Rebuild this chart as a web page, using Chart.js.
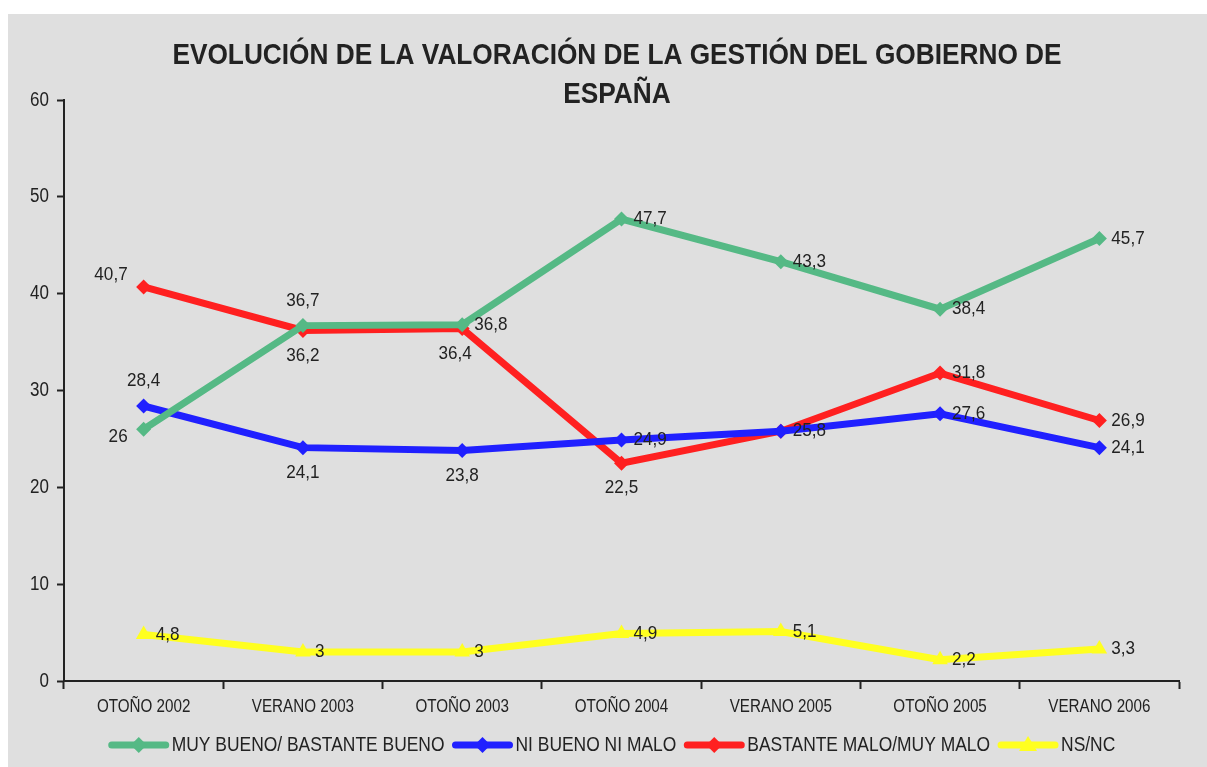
<!DOCTYPE html>
<html>
<head>
<meta charset="utf-8">
<script src="https://cdn.jsdelivr.net/npm/chart.js@4.4.1/dist/chart.umd.min.js"></script>
<style>
  html, body { margin: 0; padding: 0; background: #fff; }
  #wrap { width: 1207px; height: 767px; }
</style>
</head>
<body>
<div id="wrap"><canvas id="grafico" width="1207" height="767"></canvas></div>
<script>
const periodos = ['OTOÑO 2002', 'VERANO 2003', 'OTOÑO 2003', 'OTOÑO 2004', 'VERANO 2005', 'OTOÑO 2005', 'VERANO 2006'];
const muyBueno = [26, 36.7, 36.8, 47.7, 43.3, 38.4, 45.7];
const niBueno = [28.4, 24.1, 23.8, 24.9, 25.8, 27.6, 24.1];
const bastanteMalo = [40.7, 36.2, 36.4, 22.5, 25.8, 31.8, 26.9];
const nsnc = [4.8, 3, 3, 4.9, 5.1, 2.2, 3.3];
const yTicks = [0, 10, 20, 30, 40, 50, 60];

// where each value label sits: r = right, a = above, b = below, l = left, n = hidden
const posMuyBueno = ['l', 'a', 'r', 'r', 'r', 'r', 'r'];
const posNiBueno = ['a', 'b', 'b', 'r', 'n', 'r', 'r'];
const posMalo = ['l', 'b', 'bl', 'b', 'r', 'r', 'r'];
const posNsnc = ['r', 'r', 'r', 'r', 'r', 'r', 'r'];

const FONT = '"Liberation Sans", Arial, sans-serif';
const TXT = '#222';
const CLEAR = 'rgba(0,0,0,0)';

// the original uses a condensed face, so squeeze the text horizontally
function texto(c, s, x, y, align, sx) {
  c.save();
  c.translate(x, y);
  c.scale(sx, 1);
  c.textAlign = align;
  c.textBaseline = 'middle';
  c.fillText(s, 0, 0);
  c.restore();
}

const fondo = {
  id: 'fondo',
  beforeDraw(chart) {
    const c = chart.ctx;
    c.save();
    c.fillStyle = '#fff';
    c.fillRect(0, 0, chart.width, chart.height);
    c.fillStyle = '#dfdfdf';
    c.fillRect(8, 14, chart.width - 8, chart.height - 14);
    c.restore();
  },
  afterDraw(chart) {
    const c = chart.ctx;
    c.save();
    c.fillStyle = TXT;

    // title
    c.font = 'bold 30px ' + FONT;
    texto(c, 'EVOLUCIÓN DE LA VALORACIÓN DE LA GESTIÓN DEL GOBIERNO DE', 617, 56, 'center', 0.875);
    texto(c, 'ESPAÑA', 617, 95, 'center', 0.875);

    // axis labels
    c.font = '19px ' + FONT;
    const xs = chart.scales.x, ys = chart.scales.y;
    periodos.forEach((p, i) => texto(c, p, xs.getPixelForTick(i), 707, 'center', 0.8));
    c.font = '20px ' + FONT;
    yTicks.forEach(v => texto(c, String(v), 49, ys.getPixelForValue(v), 'right', 0.85));

    // value labels
    c.font = '19px ' + FONT;
    chart.data.datasets.forEach((ds, i) => {
      const meta = chart.getDatasetMeta(i);
      meta.data.forEach((pt, j) => {
        const p = ds.labelPos[j];
        if (p === 'n') return;
        const t = String(ds.data[j]).replace('.', ',');
        let x = pt.x, y = pt.y, al = 'center';
        if (p === 'r') { al = 'left'; x += 12; }
        else if (p === 'a') { y -= 25; }
        else if (p === 'b') { y += 25; }
        else if (p === 'l') { al = 'right'; x -= 16; y += (ds.data[j] > 30 ? -12 : 8); }
        else if (p === 'bl') { x -= 7; y += 25; }
        texto(c, t, x, y, al, 0.9);
      });
    });

    // legend
    c.font = '21px ' + FONT;
    const sx = 0.83;
    const ly = 745;
    const items = chart.data.datasets.map(ds => ({ ds, w: 63 + c.measureText(ds.label).width * sx }));
    const total = items.reduce((s, it) => s + it.w, 0) + 8 * (items.length - 1);
    let x = 612 - total / 2;
    items.forEach(it => {
      c.strokeStyle = it.ds.borderColor;
      c.lineWidth = 7;
      c.lineCap = 'round';
      c.beginPath();
      c.moveTo(x + 3, ly);
      c.lineTo(x + 57, ly);
      c.stroke();
      c.fillStyle = it.ds.borderColor;
      c.beginPath();
      if (it.ds.pointStyle === 'triangle') {
        c.moveTo(x + 30, ly - 9); c.lineTo(x + 39, ly + 6); c.lineTo(x + 21, ly + 6);
      } else {
        c.moveTo(x + 30, ly - 8); c.lineTo(x + 38, ly); c.lineTo(x + 30, ly + 8); c.lineTo(x + 22, ly);
      }
      c.closePath();
      c.fill();
      c.fillStyle = TXT;
      texto(c, it.ds.label, x + 63, ly, 'left', sx);
      x += it.w + 8;
    });
    c.restore();
  }
};

function serie(label, data, color, pos, style) {
  return {
    label, data,
    borderColor: color, backgroundColor: color,
    borderWidth: 7,
    pointStyle: style || 'rectRot',
    pointRadius: style === 'triangle' ? 9 : 7.5,
    pointBorderWidth: 0,
    pointBackgroundColor: color,
    tension: 0,
    labelPos: pos
  };
}

new Chart(document.getElementById('grafico'), {
  type: 'line',
  data: {
    labels: periodos,
    datasets: [
      serie('MUY BUENO/ BASTANTE BUENO', muyBueno, '#55b985', posMuyBueno),
      serie('NI BUENO NI MALO', niBueno, '#2020ff', posNiBueno),
      serie('BASTANTE MALO/MUY MALO', bastanteMalo, '#ff2020', posMalo),
      serie('NS/NC', nsnc, '#ffff20', posNsnc, 'triangle')
    ]
  },
  options: {
    responsive: false,
    animation: false,
    layout: { padding: { left: 8, right: 28, top: 100, bottom: 0 } },
    plugins: { legend: { display: false }, title: { display: false }, tooltip: { enabled: false } },
    scales: {
      x: {
        offset: true,
        grid: { drawOnChartArea: false, drawTicks: true, tickLength: 8, tickWidth: 2, color: TXT, offset: true },
        border: { display: true, color: TXT, width: 2 },
        ticks: { color: CLEAR, font: { family: FONT, size: 18 }, padding: 6, maxRotation: 0 },
        afterFit(s) { s.height = 86; }
      },
      y: {
        min: 0, max: 60,
        afterBuildTicks(s) { s.ticks = yTicks.map(v => ({ value: v })); },
        grid: { drawOnChartArea: false, drawTicks: true, tickLength: 7, tickWidth: 2, color: TXT },
        border: { display: true, color: TXT, width: 2 },
        ticks: { color: CLEAR, font: { family: FONT, size: 18 }, padding: 8 },
        afterFit(s) { s.width = 56; }
      }
    }
  },
  plugins: [fondo]
});
</script>
</body>
</html>
